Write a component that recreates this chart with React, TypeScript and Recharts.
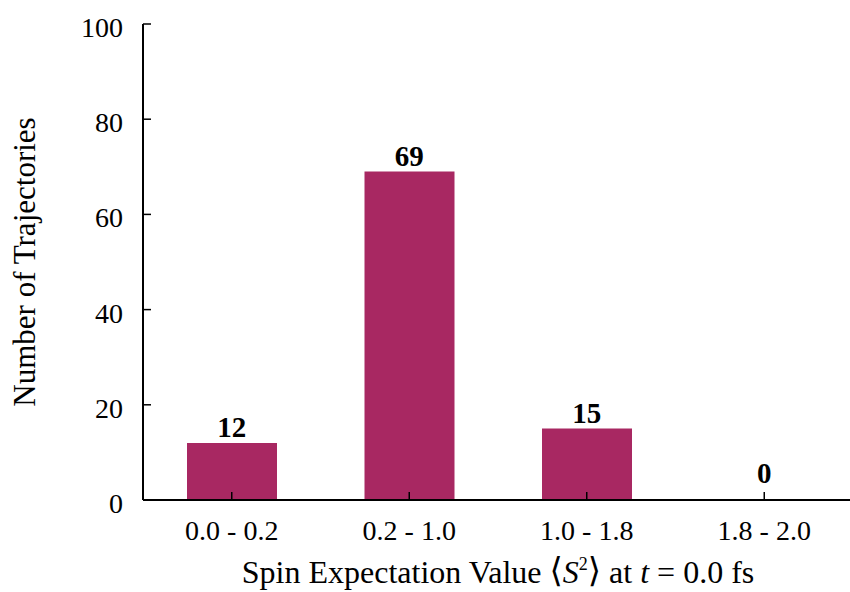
import React from 'react'
import { BarChart, Bar, XAxis, YAxis, Label, ReferenceDot } from 'recharts'

// Trajectory counts per <S^2> bin
const bins = ['0.0 - 0.2', '0.2 - 1.0', '1.0 - 1.8', '1.8 - 2.0']
const counts = [12, 69, 15, 0]
const yTicks = [0, 20, 40, 60, 80, 100]

const data = bins.map((bin, i) => ({ bin, count: counts[i] }))

const FONT = '"Liberation Serif", "DejaVu Serif", serif'
const BAR_COLOR = '#a82862'

const tickStyle = { fontFamily: FONT, fontSize: 28, fill: '#000' }

function CountLabel(props: any) {
  const { viewBox, value } = props
  // empty bins get a little more headroom so the 0 clears the axis ticks
  const lift = value === 0 ? 17 : 6
  return (
    <text
      x={viewBox.x + viewBox.width / 2}
      y={viewBox.y - lift}
      textAnchor="middle"
      fontFamily={FONT}
      fontSize={29}
      fontWeight="bold"
      fill="#000"
    >
      {value}
    </text>
  )
}

function YTick(props: any) {
  const { x, y, payload } = props
  return (
    <text x={x} y={y + 3} dy="0.355em" textAnchor="end" fontFamily={FONT} fontSize={28} fill="#000">
      {payload.value}
    </text>
  )
}

function XTitle(props: any) {
  const { viewBox } = props
  const cx = viewBox.x + viewBox.width / 2
  return (
    <text x={cx} y={583} textAnchor="middle" fontFamily={FONT} fontSize={32} fill="#000">
      <tspan>Spin Expectation Value </tspan>
      <tspan fontFamily='"DejaVu Serif", serif' fontSize={34} dy={-1}>⟨</tspan>
      <tspan fontStyle="italic" dy={1}>S</tspan>
      <tspan fontSize={18} dy={-13}>2</tspan>
      <tspan fontFamily='"DejaVu Serif", serif' fontSize={34} dy={12}>⟩</tspan>
      <tspan dy={1}> at </tspan>
      <tspan fontStyle="italic">t</tspan>
      <tspan> = 0.0 fs</tspan>
    </text>
  )
}

function YTitle(props: any) {
  const { viewBox } = props
  const cy = viewBox.y + viewBox.height / 2
  return (
    <text
      x={35}
      y={cy}
      transform={`rotate(-90, 35, ${cy})`}
      textAnchor="middle"
      fontFamily={FONT}
      fontSize={31}
      fill="#000"
    >
      Number of Trajectories
    </text>
  )
}

export default function App() {
  return (
    <div style={{ position: 'absolute', left: 0, top: 0, width: 850, height: 592, overflow: 'hidden', background: '#fff' }}>
      <BarChart
        width={853}
        height={592}
        data={data}
        margin={{ top: 24, right: 0, left: 83, bottom: 32 }}
      >
        <XAxis
          xAxisId="bottom"
          dataKey="bin"
          height={60}
          axisLine={{ stroke: '#000', strokeWidth: 2 }}
          tickLine={{ stroke: '#000', strokeWidth: 1.5 }}
          tickSize={-8}
          tickMargin={28}
          tick={tickStyle}
          interval={0}
        >
          <Label content={<XTitle />} />
        </XAxis>
        <XAxis
          xAxisId="top"
          orientation="top"
          dataKey="bin"
          height={0}
          axisLine={{ stroke: '#000', strokeWidth: 2 }}
          tickLine={{ stroke: '#000', strokeWidth: 1.5 }}
          tickSize={-8}
          tick={false}
          interval={0}
        />
        <YAxis
          yAxisId="left"
          width={60}
          domain={[0, 100]}
          ticks={yTicks}
          axisLine={{ stroke: '#000', strokeWidth: 2 }}
          tickLine={{ stroke: '#000', strokeWidth: 1.5 }}
          tickSize={-8}
          tickMargin={28}
          tick={<YTick />}
        >
          <Label content={<YTitle />} />
        </YAxis>
        <YAxis
          yAxisId="right"
          orientation="right"
          width={0}
          domain={[0, 100]}
          ticks={yTicks}
          axisLine={{ stroke: '#000', strokeWidth: 2 }}
          tickLine={{ stroke: '#000', strokeWidth: 1.5 }}
          tickSize={-8}
          tick={false}
        />
        <Bar
          xAxisId="bottom"
          yAxisId="left"
          dataKey="count"
          fill={BAR_COLOR}
          barSize={90}
          isAnimationActive={false}
        />
        {data.map(d => (
          <ReferenceDot
            key={d.bin}
            xAxisId="bottom"
            yAxisId="left"
            x={d.bin}
            y={d.count}
            r={0}
            fill="none"
            stroke="none"
            label={<CountLabel value={d.count} />}
          />
        ))}
      </BarChart>
    </div>
  )
}
